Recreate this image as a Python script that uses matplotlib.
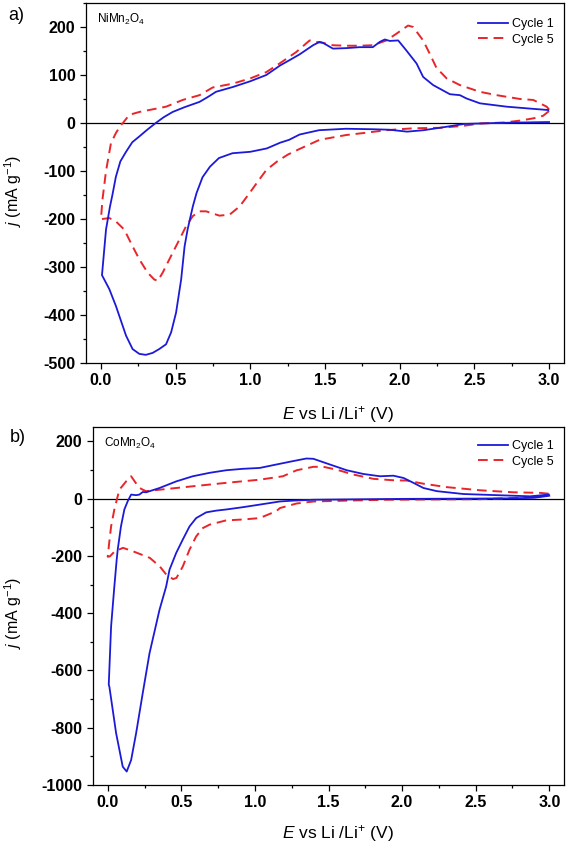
import matplotlib
matplotlib.use("Agg")
import matplotlib.pyplot as plt
from matplotlib.ticker import MultipleLocator

plt.rcParams['font.family'] = ['Liberation Sans', 'DejaVu Sans']
plt.rcParams['mathtext.fontset'] = 'custom'
plt.rcParams['mathtext.rm'] = 'Liberation Sans'
plt.rcParams['mathtext.it'] = 'Liberation Sans:italic'
plt.rcParams['axes.unicode_minus'] = False

# ---------------- Panel a: NiMn2O4 ----------------
a_c1_E = [3.0, 2.8, 2.64, 2.54, 2.43, 2.31, 2.16, 2.05, 1.93, 1.82, 1.64, 1.46, 1.33, 1.26, 1.2,
          1.11, 1.0, 0.88, 0.79, 0.73, 0.68, 0.64, 0.615, 0.58, 0.56, 0.537, 0.503, 0.47, 0.436,
          0.39, 0.346, 0.30, 0.257, 0.212, 0.168, 0.10, 0.056, 0.007,
          0.034, 0.06, 0.078, 0.10, 0.13, 0.168, 0.21, 0.257, 0.31, 0.367, 0.42, 0.48, 0.56, 0.66,
          0.72, 0.77, 0.883, 1.0, 1.107, 1.2, 1.263, 1.33, 1.42, 1.464, 1.486, 1.553, 1.643, 1.732,
          1.82, 1.867, 1.9, 1.934, 1.99, 2.045, 2.113, 2.157, 2.224, 2.336, 2.403, 2.448, 2.537,
          2.716, 2.873, 2.995]
a_c1_j = [2, 1, 0, -1, -2, -8, -15, -18, -14, -13, -12, -15, -24, -35, -41,
          -53, -60, -63, -73, -91, -113, -146, -174, -222, -257, -326, -395, -436, -461,
          -471, -479, -483, -481, -471, -443, -381, -346, -317,
          -222, -175, -148, -112, -80, -60, -40, -28, -14, 0, 12, 23, 33, 44,
          55, 65, 75, 87, 100, 120, 131, 143, 162, 169, 167, 155, 156, 158,
          158, 169, 174, 171, 172, 151, 124, 96, 79, 60, 58, 51, 41,
          34, 30, 27]

a_c5_E = [3.0, 2.96, 2.9, 2.806, 2.7, 2.537, 2.425, 2.27, 2.09, 1.911, 1.755, 1.643, 1.464, 1.33,
          1.25, 1.18, 1.107, 1.05, 0.995, 0.928, 0.861, 0.793, 0.704, 0.66, 0.615, 0.57, 0.525,
          0.458, 0.413, 0.38, 0.357, 0.313, 0.257, 0.212, 0.156, 0.1, 0.056, 0.01, 0.0,
          0.01, 0.034, 0.067, 0.1, 0.134, 0.147, 0.19, 0.257, 0.436, 0.547, 0.66, 0.748, 0.883,
          1.0, 1.107, 1.196, 1.308, 1.397, 1.442, 1.486, 1.553, 1.643, 1.732, 1.82, 1.911, 1.978,
          2.056, 2.09, 2.157, 2.2, 2.246, 2.314, 2.403, 2.537, 2.649, 2.806, 2.894, 2.984, 3.0]
a_c5_j = [25, 15, 10, 5, 1, -1, -6, -10, -11, -15, -21, -25, -35, -54,
          -66, -80, -98, -122, -146, -174, -191, -193, -184, -184, -194, -215, -243,
          -284, -312, -329, -326, -312, -284, -257, -222, -205, -198, -200, -201,
          -160, -100, -42, -21, -4, 0, 17, 23, 34, 48, 58, 74, 82,
          93, 106, 124, 148, 172, 169, 167, 162, 161, 161, 162, 172, 186,
          203, 200, 172, 145, 115, 93, 79, 65, 58, 50, 48, 34, 28]

# ---------------- Panel b: CoMn2O4 ----------------
b_c1_E = [3.0, 2.9, 2.76, 2.5, 2.0, 1.6, 1.4, 1.26, 1.17, 1.032, 0.918, 0.805, 0.737, 0.669,
          0.601, 0.556, 0.51, 0.465, 0.42, 0.397, 0.352, 0.284, 0.238, 0.193, 0.159, 0.129,
          0.102, 0.057, 0.011, 0.007,
          0.023, 0.045, 0.061, 0.068, 0.09, 0.113, 0.136, 0.159, 0.193, 0.215, 0.238, 0.261,
          0.352, 0.465, 0.578, 0.692, 0.805, 0.918, 1.032, 1.145, 1.26, 1.35, 1.397, 1.51, 1.624,
          1.737, 1.85, 1.941, 2.01, 2.077, 2.145, 2.236, 2.417, 2.644, 2.87, 2.996]
b_c1_j = [10, 3, 1, 0, -1, -3, -4, -7, -10, -21, -30, -38, -42, -48,
          -68, -97, -143, -190, -248, -307, -388, -540, -679, -819, -913, -953,
          -936, -819, -656, -650,
          -446, -307, -213, -178, -97, -38, -9, 14, 12, 14, 23, 22,
          37, 60, 78, 90, 99, 104, 107, 119, 131, 140, 139, 119, 99,
          86, 78, 80, 72, 55, 37, 26, 16, 12, 8, 14]

b_c5_E = [3.0, 2.9, 2.757, 2.53, 2.2, 1.9, 1.624, 1.4, 1.284, 1.17, 1.145, 1.032, 0.918, 0.805,
          0.692, 0.646, 0.601, 0.556, 0.51, 0.467, 0.444, 0.399, 0.354, 0.286, 0.172, 0.104,
          0.048, 0.014, 0.0,
          0.011, 0.023, 0.045, 0.079, 0.125, 0.159, 0.19, 0.215, 0.238, 0.261, 0.352, 0.578,
          0.805, 1.032, 1.19, 1.284, 1.397, 1.465, 1.556, 1.669, 1.805, 1.941, 2.032, 2.145,
          2.304, 2.531, 2.757, 2.939, 2.996]
b_c5_j = [12, 5, 2, -2, -3, -4, -7, -10, -17, -33, -44, -68, -73, -76,
          -91, -103, -132, -178, -237, -277, -281, -266, -237, -207, -184, -172,
          -184, -202, -203,
          -150, -97, -38, 31, 60, 78, 55, 38, 31, 26, 31, 43,
          55, 66, 78, 99, 111, 111, 101, 84, 69, 64, 63, 52,
          40, 29, 22, 20, 17]

series_labels = ['Cycle 1', 'Cycle 5']
materials = [r'NiMn$_2$O$_4$', r'CoMn$_2$O$_4$']
panel_tags = ['a)', 'b)']
x_ticks = [0.0, 0.5, 1.0, 1.5, 2.0, 2.5, 3.0]

BLUE = '#1c1ad8'
RED = '#e8262a'

fig = plt.figure(figsize=(5.74, 8.43), dpi=100)
W, H = 574, 843

def ax_rect(l, t, r, b):
    return [l / W, 1 - b / H, (r - l) / W, (b - t) / H]

axA = fig.add_axes(ax_rect(86, 3, 564, 363))
axB = fig.add_axes(ax_rect(93, 427, 564, 785))

panels = [
    (axA, a_c1_E, a_c1_j, a_c5_E, a_c5_j, (-500, 250), 100, 50, materials[0], 0.972),
    (axB, b_c1_E, b_c1_j, b_c5_E, b_c5_j, (-1000, 250), 200, 100, materials[1], 0.978),
]

for ax, e1, j1, e5, j5, ylim, ymaj, ymin, mat, legy in panels:
    ax.axhline(0, color='black', lw=0.9, zorder=1)
    ax.plot(e1, j1, color=BLUE, lw=1.3, label=series_labels[0], zorder=3)
    ax.plot(e5, j5, color=RED, lw=1.4, ls=(0, (5, 3)), label=series_labels[1], zorder=2)
    ax.set_xlim(-0.1, 3.1)
    ax.set_ylim(*ylim)
    ax.set_xticks(x_ticks)
    ax.xaxis.set_minor_locator(MultipleLocator(0.25))
    ax.yaxis.set_major_locator(MultipleLocator(ymaj))
    ax.yaxis.set_minor_locator(MultipleLocator(ymin))
    ax.set_yticks([t for t in ax.get_yticks() if ylim[0] <= t <= 200])
    ax.tick_params(which='major', direction='out', length=4.5, width=0.9, labelsize=11.5, pad=3,
                   top=False, right=False)
    ax.tick_params(which='minor', direction='out', length=2.5, width=0.9, top=False, right=False)
    for lab in ax.get_xticklabels() + ax.get_yticklabels():
        lab.set_fontweight('bold')
    for s in ax.spines.values():
        s.set_linewidth(0.9)
    ax.set_xlabel(r'$E$ vs Li /Li$^{+}$ (V)', fontsize=12.5)
    ax.set_ylabel(r'$j$ (mA g$^{-1}$)', fontsize=11.5)
    ax.text(0.023, 0.975, mat, transform=ax.transAxes, fontsize=8.5, va='top', ha='left')
    ax.legend(loc='upper right', frameon=False, fontsize=9, handlelength=2.4,
              handletextpad=0.25, labelspacing=0.3, borderaxespad=0.0,
              bbox_to_anchor=(0.988, legy))

axA.xaxis.set_label_coords((338 - 86) / 478, -(404 - 363) / 360)
axA.yaxis.set_label_coords((24 - 86) / 478, (363 - 191) / 360)
axB.xaxis.set_label_coords((338 - 93) / 471, -(823 - 785) / 358)
axB.yaxis.set_label_coords((24 - 93) / 471, (785 - 613) / 358)

fig.text(16 / W, 1 - 15 / H, panel_tags[0], fontsize=13, ha='center', va='center')
fig.text(18 / W, 1 - 437 / H, panel_tags[1], fontsize=13, ha='center', va='center')

fig.savefig('out.png', dpi=100)
